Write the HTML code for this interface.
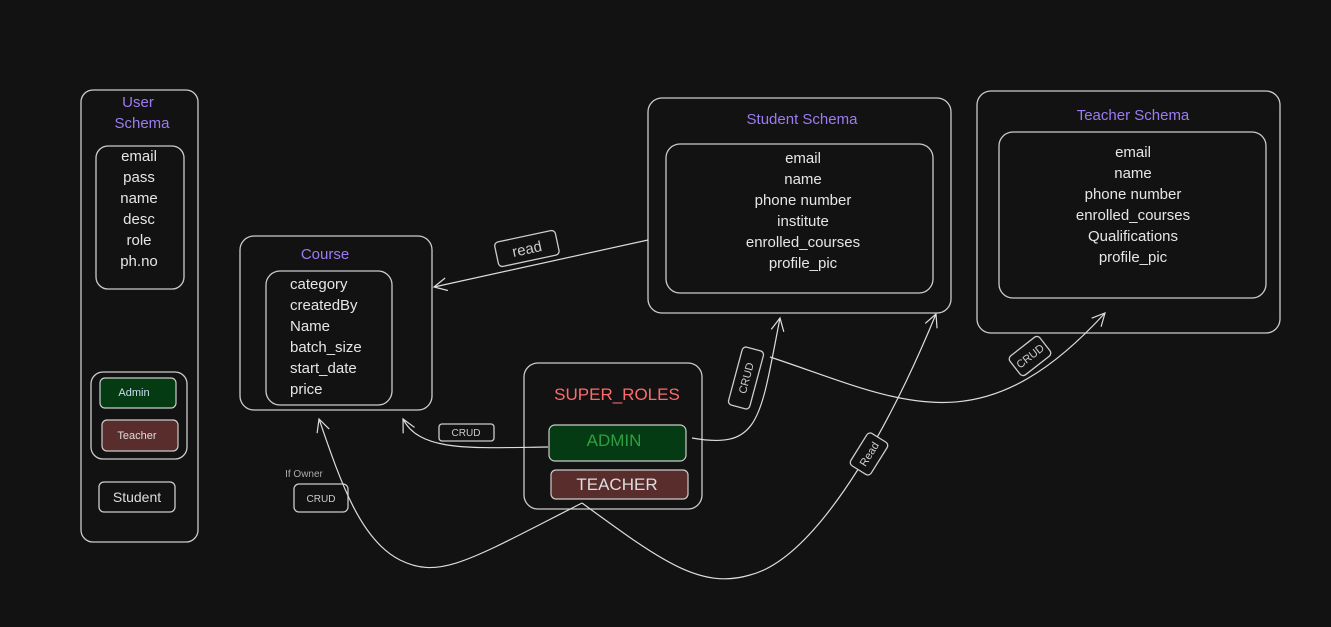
<!DOCTYPE html>
<html><head><meta charset="utf-8"><style>
html,body{margin:0;padding:0;background:#121212;}
svg{display:block}
text{font-family:"Liberation Sans",sans-serif;}
</style></head><body>
<svg width="1331" height="627" viewBox="0 0 1331 627" xmlns="http://www.w3.org/2000/svg">
<defs><marker id="a" viewBox="0 0 20 20" refX="18" refY="10" markerWidth="16" markerHeight="16" orient="auto" markerUnits="userSpaceOnUse"><path d="M2 2 L18 10 L2 18" fill="none" stroke="#ddd" stroke-width="1.5"/></marker></defs>
<rect width="1331" height="627" fill="#121212"/>
<g fill="none" stroke="#ccc" stroke-width="1.3">
<rect x="81" y="90" width="117" height="452" rx="12"/>
<rect x="96" y="146" width="88" height="143" rx="12"/>
<rect x="91" y="372" width="96" height="87" rx="12"/>
<rect x="99" y="482" width="76" height="30" rx="5"/>
<rect x="240" y="236" width="192" height="174" rx="14"/>
<rect x="266" y="271" width="126" height="134" rx="14"/>
<rect x="648" y="98" width="303" height="215" rx="14"/>
<rect x="666" y="144" width="267" height="149" rx="14"/>
<rect x="977" y="91" width="303" height="242" rx="14"/>
<rect x="999" y="132" width="267" height="166" rx="14"/>
<rect x="524" y="363" width="178" height="146" rx="14"/>
<rect x="439" y="424" width="55" height="17" rx="3"/>
<rect x="294" y="484" width="54" height="28" rx="5"/>
</g>
<rect x="100" y="378" width="76" height="30" rx="5" fill="#053b12" stroke="#ccc" stroke-width="1.2"/>
<rect x="102" y="420" width="76" height="31" rx="5" fill="#5a2d2d" stroke="#ccc" stroke-width="1.2"/>
<rect x="549" y="425" width="137" height="36" rx="6" fill="#053b12" stroke="#ccc" stroke-width="1.2"/>
<rect x="551" y="470" width="137" height="29" rx="5" fill="#5a2d2d" stroke="#ccc" stroke-width="1.2"/>
<g fill="none" stroke="#ddd" stroke-width="1.2">
<path d="M648 240 L434 287" marker-end="url(#a)"/>
<path d="M548 447 C470 448 420 452 403 419" marker-end="url(#a)"/>
<path d="M692 438 C760 450 760 420 780 318" marker-end="url(#a)"/>
<path d="M770 357 C900 400 980 450 1105 313" marker-end="url(#a)"/>
<path d="M582 503 C470 560 440 580 400 560 C360 540 340 480 319 419" marker-end="url(#a)"/>
<path d="M582 503 C660 560 700 590 750 575 C810 560 880 450 936 314" marker-end="url(#a)"/>
</g>
<g fill="#121212" stroke="#ccc" stroke-width="1.3">
<rect x="496" y="236" width="62" height="25" rx="4" transform="rotate(-12 527 249)"/>
<rect x="735" y="348" width="22" height="60" rx="4" transform="rotate(15 746 378)"/>
<rect x="1011" y="344" width="38" height="24" rx="4" transform="rotate(-38 1030 356)"/>
<rect x="850" y="442" width="38" height="24" rx="4" transform="rotate(-58 869 454)"/>
</g>
<g fill="#ccc" font-size="11" text-anchor="middle">
<text x="527" y="254" font-size="15" transform="rotate(-12 527 249)">read</text>
<text x="746" y="382" transform="rotate(-75 746 378)">CRUD</text>
<text x="1030" y="360" transform="rotate(-38 1030 356)">CRUD</text>
<text x="869" y="458" transform="rotate(-58 869 454)">Read</text>
<text x="466" y="436" font-size="10">CRUD</text>
<text x="321" y="502" font-size="10">CRUD</text>
<text x="304" y="477" font-size="10" fill="#aaa">If Owner</text>
</g>
<g fill="#9d7cf2" font-size="15" text-anchor="middle">
<text x="138" y="107">User</text><text x="142" y="128">Schema</text>
<text x="325" y="259">Course</text>
<text x="802" y="124">Student Schema</text>
<text x="1133" y="120">Teacher Schema</text>
</g>
<text x="617" y="400" fill="#ff6b6b" font-size="17" text-anchor="middle">SUPER_ROLES</text>
<text x="614" y="446" fill="#2f9e44" font-size="17" text-anchor="middle">ADMIN</text>
<text x="617" y="490" fill="#ddd" font-size="17" text-anchor="middle">TEACHER</text>
<g fill="#ddd" font-size="11" text-anchor="middle">
<text x="134" y="396" fill="#cde">Admin</text>
<text x="137" y="439">Teacher</text>
<text x="137" y="502" font-size="14">Student</text>
</g>
<g fill="#e6e6e6" font-size="15" text-anchor="middle">
<text x="139" y="161">email</text><text x="139" y="182">pass</text><text x="139" y="203">name</text><text x="139" y="224">desc</text><text x="139" y="245">role</text><text x="139" y="266">ph.no</text>
<text x="803" y="163">email</text><text x="803" y="184">name</text><text x="803" y="205">phone number</text><text x="803" y="226">institute</text><text x="803" y="247">enrolled_courses</text><text x="803" y="268">profile_pic</text>
<text x="1133" y="157">email</text><text x="1133" y="178">name</text><text x="1133" y="199">phone number</text><text x="1133" y="220">enrolled_courses</text><text x="1133" y="241">Qualifications</text><text x="1133" y="262">profile_pic</text>
</g>
<g fill="#e6e6e6" font-size="15">
<text x="290" y="289">category</text><text x="290" y="310">createdBy</text><text x="290" y="331">Name</text><text x="290" y="352">batch_size</text><text x="290" y="373">start_date</text><text x="290" y="394">price</text>
</g>
</svg>
</body></html>
